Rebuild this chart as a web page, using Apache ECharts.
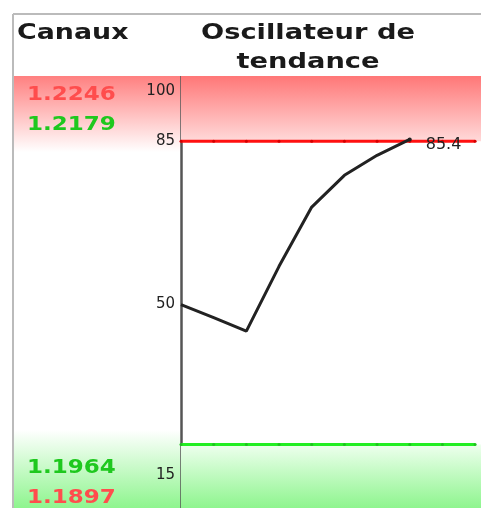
<!DOCTYPE html>
<html>
<head>
<meta charset="utf-8">
<script src="https://cdn.jsdelivr.net/npm/echarts@6.0.0/dist/echarts.min.js"></script>
<style>
  html, body { margin: 0; padding: 0; background: #fff; }
  #chartmain { width: 481px; height: 508px; }
</style>
</head>
<body>
<div id="chartmain"></div>
<script>
// oscillateur de tendance
var steps = [0, 1, 2, 3, 4, 5, 6, 7];
var trendValues = [50, 47.2, 44.3, 58.2, 70.9, 77.7, 82.0, 85.4];
var levelSteps = [0, 1, 2, 3, 4, 5, 6, 7, 8, 9];
var upperLevel = 85;
var lowerLevel = 20;
var yTicks = [100, 85, 50, 15];
var yMin = 6.4, yMax = 100;
// canaux
var channelTop = ['1.2246', '1.2179'];
var channelTopColors = ['#ff4d4d', '#1ec81e'];
var channelBottom = ['1.1964', '1.1897'];
var channelBottomColors = ['#1ec81e', '#ff4d4d'];

var myChart = echarts.init(document.getElementById('chartmain'));

var trendData = steps.map(function (s, i) {
    if (i === steps.length - 1) {
        return {
            value: [s, trendValues[i]],
            symbol: 'circle',
            symbolSize: 4,
            itemStyle: { color: '#222' },
            label: {
                show: true,
                position: 'right',
                distance: 14,
                offset: [0, 5],
                color: '#222',
                fontFamily: 'DejaVu Sans',
                fontSize: 16
            }
        };
    }
    return [s, trendValues[i]];
});

function levelData(level) {
    return levelSteps.map(function (s) { return [s, level]; });
}

var graphics = [
    // bandes colonne gauche
    {
        type: 'rect', z: 0, silent: true,
        shape: { x: 14, y: 76, width: 167, height: 76 },
        style: { fill: new echarts.graphic.LinearGradient(0, 0, 0, 1, [
            { offset: 0, color: '#ff8080' }, { offset: 1, color: '#ffffff' }
        ]) }
    },
    {
        type: 'rect', z: 0, silent: true,
        shape: { x: 14, y: 430, width: 167, height: 78 },
        style: { fill: new echarts.graphic.LinearGradient(0, 0, 0, 1, [
            { offset: 0, color: '#ffffff' }, { offset: 1, color: '#8ef58e' }
        ]) }
    },
    // entete
    {
        type: 'rect', z: 50, silent: true,
        shape: { x: 14, y: 15, width: 467, height: 61 },
        style: { fill: '#ffffff' }
    },
    {
        type: 'line', z: 60, silent: true,
        shape: { x1: 13, y1: 14, x2: 481, y2: 14 },
        style: { stroke: '#bbbbbb', lineWidth: 2 }
    },
    {
        type: 'line', z: 60, silent: true,
        shape: { x1: 13, y1: 14, x2: 13, y2: 508 },
        style: { stroke: '#bbbbbb', lineWidth: 2 }
    },
    {
        type: 'text', z: 60, x: 17, y: 33, scaleX: 1.22, originX: 0,
        style: { text: 'Canaux', fill: '#1a1a1a', font: 'bold 22px "DejaVu Sans"',
                 align: 'left', verticalAlign: 'middle' }
    },
    {
        type: 'text', z: 60, x: 308, y: 33, scaleX: 1.24, originX: 0,
        style: { text: 'Oscillateur de', fill: '#1a1a1a', font: 'bold 22px "DejaVu Sans"',
                 align: 'center', verticalAlign: 'middle' }
    },
    {
        type: 'text', z: 60, x: 308, y: 62, scaleX: 1.24, originX: 0,
        style: { text: 'tendance', fill: '#1a1a1a', font: 'bold 22px "DejaVu Sans"',
                 align: 'center', verticalAlign: 'middle' }
    }
];

var topY = [94.5, 124.5], bottomY = [468, 497.5];
channelTop.forEach(function (t, i) {
    graphics.push({
        type: 'text', z: 10, x: 27, y: topY[i], scaleX: 1.15, originX: 0,
        style: { text: t, fill: channelTopColors[i], font: 'bold 20px "DejaVu Sans"',
                 align: 'left', verticalAlign: 'middle' }
    });
});
channelBottom.forEach(function (t, i) {
    graphics.push({
        type: 'text', z: 10, x: 27, y: bottomY[i], scaleX: 1.15, originX: 0,
        style: { text: t, fill: channelBottomColors[i], font: 'bold 20px "DejaVu Sans"',
                 align: 'left', verticalAlign: 'middle' }
    });
});

var labelFont = { color: '#222', fontFamily: 'DejaVu Sans', fontSize: 15 };

var option = {
    animation: false,
    backgroundColor: '#ffffff',
    grid: { left: 181, right: 0, top: 71.3, bottom: 0 },
    xAxis: { type: 'value', min: 0, max: 9.18, show: false },
    yAxis: {
        type: 'value',
        min: yMin,
        max: yMax,
        axisLine: { show: true, lineStyle: { color: '#555', width: 2.5 } },
        axisTick: { show: false },
        splitLine: { show: false },
        axisLabel: {
            customValues: yTicks,
            margin: 6,
            color: '#222',
            fontFamily: 'DejaVu Sans',
            fontSize: 15,
            formatter: function (v) {
                if (v === yMax) return '{t|' + v + '}';
                if (v === yTicks[yTicks.length - 1]) return '{b|' + v + '}';
                return String(v);
            },
            rich: {
                t: Object.assign({ padding: [40, 0, 0, 0] }, labelFont),
                b: Object.assign({ padding: [14, 0, 0, 0] }, labelFont)
            }
        }
    },
    graphic: graphics,
    series: [
        {
            name: 'haut',
            type: 'line',
            data: levelData(upperLevel),
            symbol: 'circle',
            symbolSize: 3,
            itemStyle: { color: '#d40000' },
            lineStyle: { color: '#ff1010', width: 3 },
            z: 3,
            markArea: {
                silent: true,
                itemStyle: { color: new echarts.graphic.LinearGradient(0, 0, 0, 1, [
                    { offset: 0, color: '#ff7070' }, { offset: 1, color: '#ffdada' }
                ]) },
                data: [[{ yAxis: upperLevel }, { yAxis: yMax }]]
            }
        },
        {
            name: 'bas',
            type: 'line',
            data: levelData(lowerLevel),
            symbol: 'circle',
            symbolSize: 3,
            itemStyle: { color: '#1fc01f' },
            lineStyle: { color: '#22ee22', width: 3 },
            z: 3,
            markArea: {
                silent: true,
                itemStyle: { color: new echarts.graphic.LinearGradient(0, 0, 0, 1, [
                    { offset: 0, color: '#eeffee' }, { offset: 1, color: '#8ef58e' }
                ]) },
                data: [[{ yAxis: yMin }, { yAxis: lowerLevel }]]
            }
        },
        {
            name: 'tendance',
            type: 'line',
            data: trendData,
            symbol: 'none',
            lineStyle: { color: '#222', width: 3 },
            z: 5
        }
    ]
};
myChart.setOption(option);
</script>
</body>
</html>
